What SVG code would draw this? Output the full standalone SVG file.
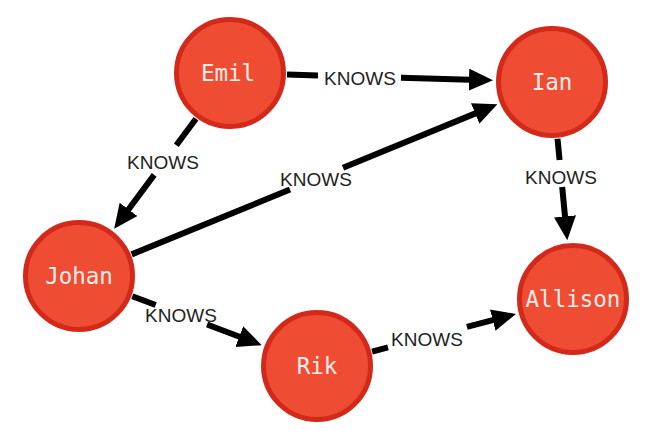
<svg xmlns="http://www.w3.org/2000/svg" width="648" height="448" viewBox="0 0 648 448">
  <style>
    .node circle { fill: #EF4D33; stroke: #D3291B; stroke-width: 5; }
    .node text { font-family: "DejaVu Sans Mono", "Liberation Mono", monospace; font-size: 22.5px; fill: #FCEDEA; text-anchor: middle; }
    .edge { fill: none; stroke: #000; stroke-width: 6; marker-end: url(#arrow); }
    .label { font-family: "Liberation Sans", Arial, sans-serif; font-size: 19px; fill: #222; text-anchor: middle; }
  </style>
  <defs>
    <marker id="arrow" markerUnits="userSpaceOnUse" markerWidth="26" markerHeight="24" refX="1" refY="11" orient="auto">
      <path d="M0,0 L24,11 L0,22 z" fill="#000"/>
    </marker>
  </defs>
  <rect width="648" height="448" fill="#fff"/>
  <g id="connectors">
    <path class="edge" d="M287,74.6 L318,75.5 M401,77.8 L470,79.7"/>
    <text class="label" x="360" y="85">KNOWS</text>
    <path class="edge" d="M196,118.7 L176.3,145.2 M154.2,174.9 L127.9,210.2"/>
    <text class="label" x="163" y="169">KNOWS</text>
    <path class="edge" d="M131.7,254.4 L290,189.5 M343,167.7 L476.1,113.1"/>
    <text class="label" x="316" y="186">KNOWS</text>
    <path class="edge" d="M557.5,138.7 L559.6,160 M562.2,187 L565.1,217.4"/>
    <text class="label" x="561" y="184">KNOWS</text>
    <path class="edge" d="M132.3,296.2 L155.7,305 M207.1,324.5 L240.2,337"/>
    <text class="label" x="181" y="322">KNOWS</text>
    <path class="edge" d="M372.1,351.6 L388,347.4 M466.9,326.8 L493.7,319.8"/>
    <text class="label" x="427" y="346">KNOWS</text>
  </g>
  <g id="node-emil" class="node">
    <circle cx="230" cy="73" r="53.5"/>
    <text x="228" y="81">Emil</text>
  </g>
  <g id="node-ian" class="node">
    <circle cx="552" cy="82" r="53.5"/>
    <text x="552" y="90">Ian</text>
  </g>
  <g id="node-johan" class="node">
    <circle cx="79" cy="276" r="53.5"/>
    <text x="79" y="284">Johan</text>
  </g>
  <g id="node-rik" class="node">
    <circle cx="317" cy="366" r="53.5"/>
    <text x="317" y="374">Rik</text>
  </g>
  <g id="node-allison" class="node">
    <circle cx="573" cy="299" r="53.5"/>
    <text x="573" y="307">Allison</text>
  </g>
</svg>
